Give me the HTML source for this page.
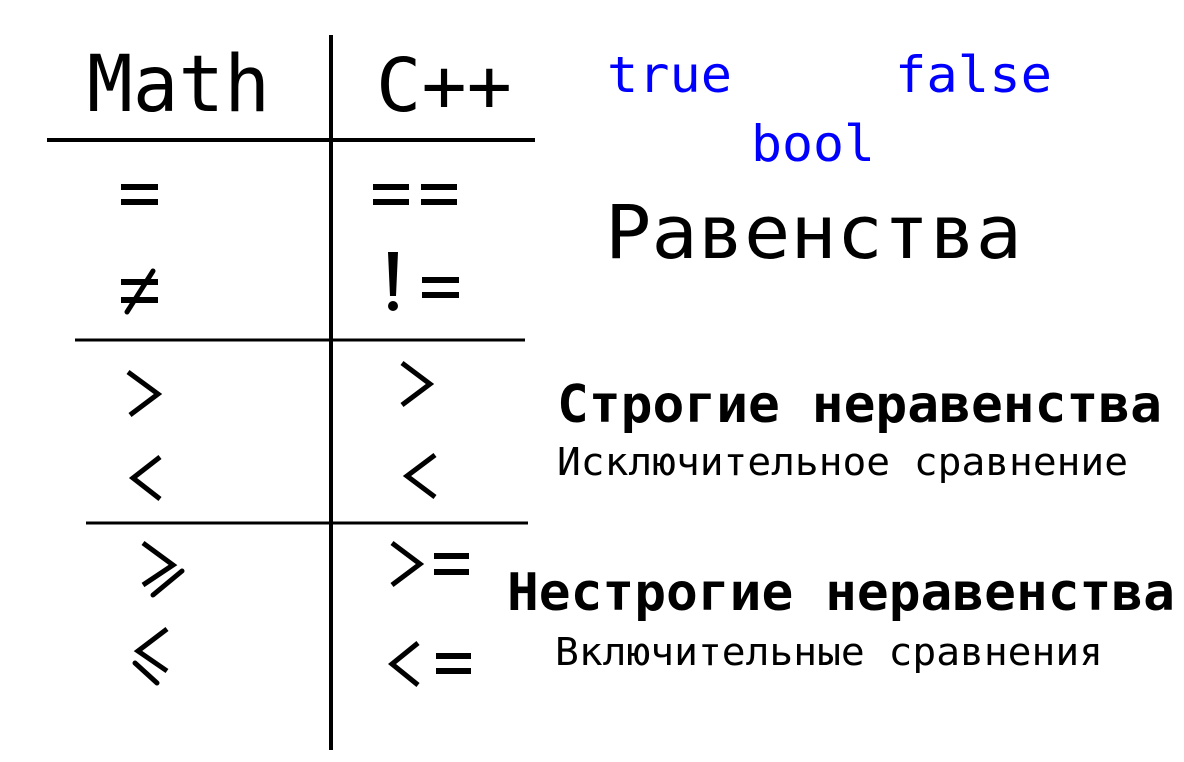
<!DOCTYPE html>
<html><head><meta charset="utf-8"><style>
html,body{margin:0;padding:0;background:#fff;}
svg{display:block;}
text{font-family:"DejaVu Sans Mono","Liberation Mono",monospace;}
</style></head><body>
<svg width="1184" height="762" viewBox="0 0 1184 762" xmlns="http://www.w3.org/2000/svg">
<rect width="1184" height="762" fill="#fff"/>
<g stroke="#000" fill="none">
<line x1="331" y1="35" x2="331" y2="750" stroke-width="4"/>
<line x1="47" y1="140" x2="535" y2="140" stroke-width="4"/>
<line x1="75" y1="340" x2="525" y2="340" stroke-width="3"/>
<line x1="86" y1="523" x2="528" y2="523" stroke-width="3"/>
</g>
<text x="87" y="111" font-size="78" textLength="183" lengthAdjust="spacingAndGlyphs">Math</text>
<text x="376" y="111" font-size="74" textLength="136" lengthAdjust="spacingAndGlyphs">C++</text>
<g fill="#0000ff" font-size="50">
<text x="607" y="92" textLength="125" lengthAdjust="spacingAndGlyphs">true</text>
<text x="895" y="92" textLength="157" lengthAdjust="spacingAndGlyphs">false</text>
<text x="751" y="161" textLength="124" lengthAdjust="spacingAndGlyphs">bool</text>
</g>
<text x="605" y="258" font-size="74" textLength="417" lengthAdjust="spacingAndGlyphs">Равенства</text>
<text x="557" y="422" font-size="52" font-weight="bold" textLength="605" lengthAdjust="spacingAndGlyphs">Строгие неравенства</text>
<text x="557" y="475" font-size="38" textLength="571" lengthAdjust="spacingAndGlyphs">Исключительное сравнение</text>
<text x="507" y="610" font-size="52" font-weight="bold" textLength="668" lengthAdjust="spacingAndGlyphs">Нестрогие неравенства</text>
<text x="555" y="665" font-size="38" textLength="548" lengthAdjust="spacingAndGlyphs">Включительные сравнения</text>
<g fill="#000">
<!-- = -->
<rect x="121" y="184" width="37" height="6"/><rect x="121" y="199" width="37" height="6"/>
<!-- == -->
<rect x="373" y="184" width="36" height="6"/><rect x="373" y="199" width="36" height="6"/>
<rect x="421" y="184" width="36" height="6"/><rect x="421" y="199" width="36" height="6"/>
<!-- ≠ -->
<rect x="121" y="279" width="37" height="6"/><rect x="121" y="297" width="37" height="6"/>
<!-- != -->
<polygon points="388,252 398,252 396,296 390,296"/>
<circle cx="393" cy="306" r="5"/>
<rect x="422" y="277" width="37" height="6"/><rect x="422" y="292" width="37" height="6"/>
<!-- >= = -->
<rect x="434" y="553" width="35" height="6"/><rect x="434" y="569" width="35" height="6"/>
<!-- <= = -->
<rect x="436" y="653" width="35" height="6"/><rect x="436" y="668" width="35" height="6"/>
</g>
<g stroke="#000" stroke-width="5" fill="none">
<line x1="127" y1="312" x2="153" y2="271" stroke-linecap="round"/>
<polyline points="128,372 158,394 130,415"/>
<polyline points="160,457 133,478 160,499"/>
<polyline points="402,363 430,384 402,405"/>
<polyline points="435,455 407,476 435,497"/>
<polyline points="143,543 173,565 143,585"/>
<line x1="182" y1="571" x2="153" y2="595" stroke-linecap="round"/>
<polyline points="167,629 138,651 167,671"/>
<line x1="135" y1="663" x2="157" y2="683" stroke-linecap="round"/>
<polyline points="392,543 420,564 392,585"/>
<polyline points="418,643 392,664 418,685"/>
</g>
</svg>
</body></html>
